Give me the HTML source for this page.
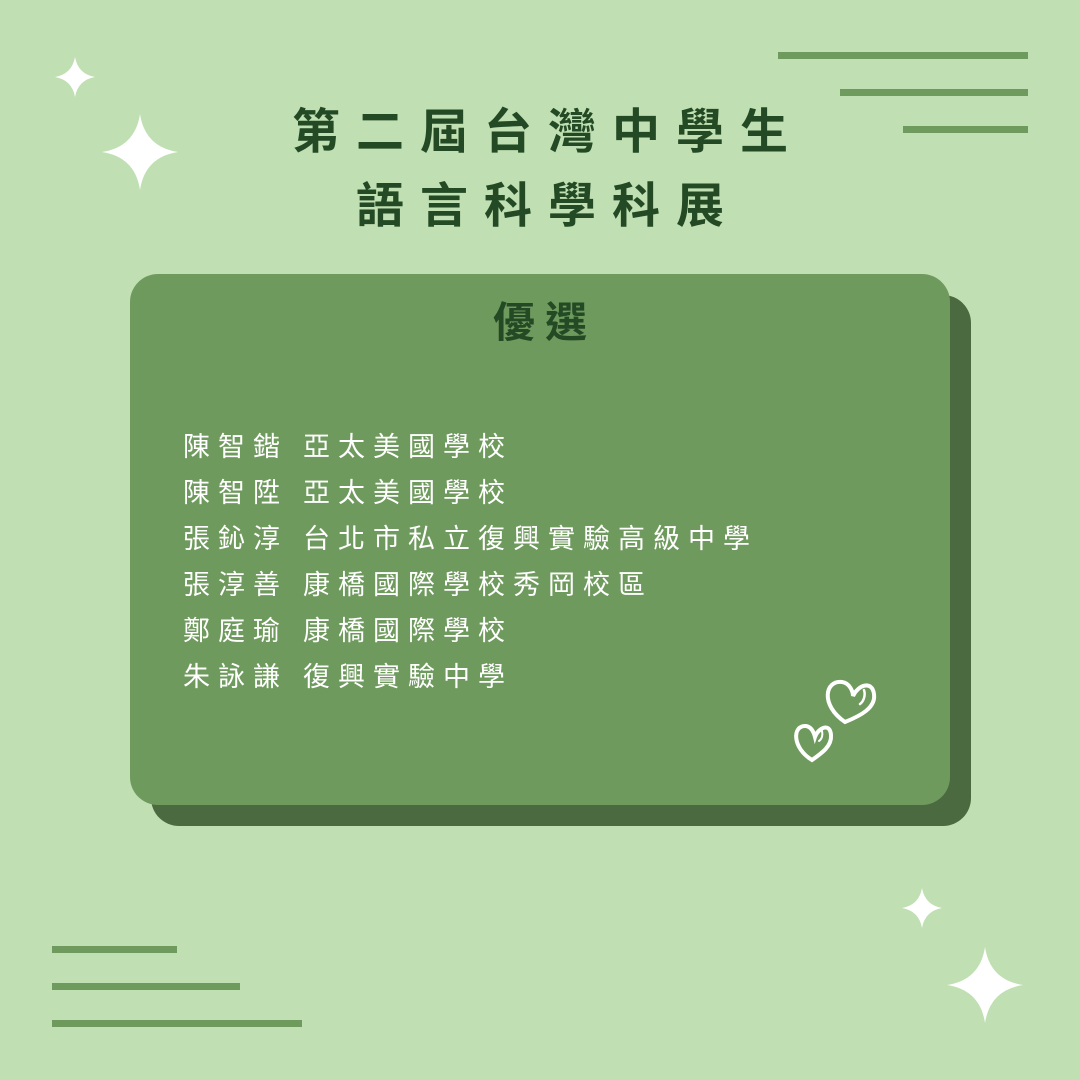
<!DOCTYPE html>
<html><head><meta charset="utf-8"><style>
html,body{margin:0;padding:0}
body{width:1080px;height:1080px;background:#c0dfb2;position:relative;overflow:hidden;font-family:"Liberation Sans","Noto Sans CJK TC",sans-serif}
.ln{position:absolute;height:7px;background:#6f9a5d}
.t{position:absolute;left:0;width:1080px;text-align:center;color:#234a24;font-weight:bold;font-size:48px;letter-spacing:16px;text-indent:16px;line-height:1}
.shadow{position:absolute;left:151px;top:295px;width:820px;height:531px;background:#4b6a40;border-radius:28px}
.card{position:absolute;left:130px;top:274px;width:820px;height:531px;background:#6f9a5d;border-radius:28px}
.h{position:absolute;left:0;width:820px;top:28px;text-align:center;color:#234a24;font-weight:bold;font-size:42px;letter-spacing:10px;text-indent:10px;line-height:1}
.list{position:absolute;left:53px;top:150px;color:#fff;font-size:27px;letter-spacing:8px;line-height:46px;white-space:nowrap}
.sp{display:inline-block;width:15px}
svg{position:absolute;left:0;top:0}
</style></head><body>
<div class="ln" style="left:778px;top:52px;width:250px"></div>
<div class="ln" style="left:840px;top:89px;width:188px"></div>
<div class="ln" style="left:903px;top:126px;width:125px"></div>
<div class="ln" style="left:52px;top:946px;width:125px"></div>
<div class="ln" style="left:52px;top:983px;width:188px"></div>
<div class="ln" style="left:52px;top:1020px;width:250px"></div>
<div class="t" style="top:109px">第二屆台灣中學生</div>
<div class="t" style="top:183px">語言科學科展</div>
<div class="shadow"></div>
<div class="card">
<div class="h">優選</div>
<div class="list">
<div>陳智鍇<span class="sp"></span>亞太美國學校</div>
<div>陳智陞<span class="sp"></span>亞太美國學校</div>
<div>張鈊淳<span class="sp"></span>台北市私立復興實驗高級中學</div>
<div>張淳善<span class="sp"></span>康橋國際學校秀岡校區</div>
<div>鄭庭瑜<span class="sp"></span>康橋國際學校</div>
<div>朱詠謙<span class="sp"></span>復興實驗中學</div>
</div></div>
<svg width="1080" height="1080">
<g fill="#fff">
<path d="M75 57 Q78 74 95 77 Q78 80 75 97 Q72 80 55 77 Q72 74 75 57Z"/>
<path d="M140 114 Q145 147 178 152 Q145 157 140 190 Q135 157 102 152 Q135 147 140 114Z"/>
<path d="M922 888 Q925 905 942 908 Q925 911 922 928 Q919 911 902 908 Q919 905 922 888Z"/>
<path d="M985 947 Q990 980 1023 985 Q990 990 985 1023 Q980 990 947 985 Q980 980 985 947Z"/>
</g>
<g fill="none" stroke="#fff" stroke-width="4" stroke-linecap="round">
<path d="M845 722 C820 705 825 680 842 682 C850 683 853 692 853 696 C858 685 872 680 874 694 C876 708 860 716 845 722Z"/>
<path d="M812 760 C792 748 792 725 806 726 C812 727 814 733 815 737 C818 728 830 722 831 735 C832 746 822 753 812 760Z"/>
<path d="M864 690 C866 696 863 702 860 704" stroke-width="2.5"/>
<path d="M822 731 C823 735 822 739 819 741" stroke-width="2"/>
</g>
</svg>
</body></html>
